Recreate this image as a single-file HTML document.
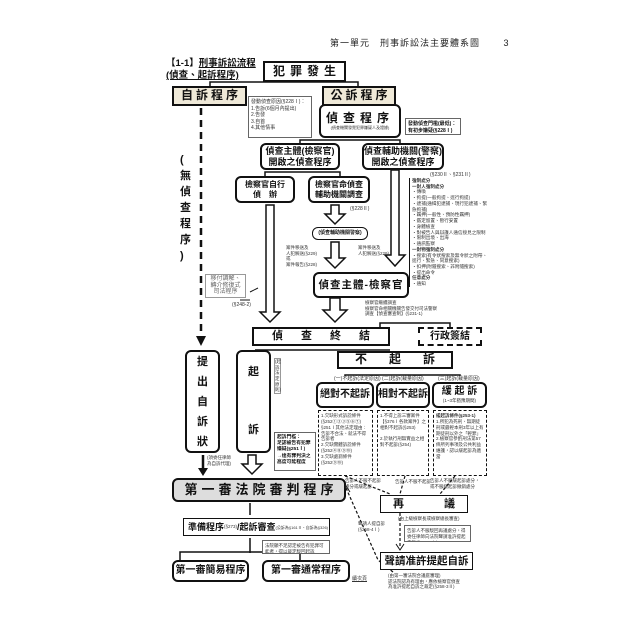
<!DOCTYPE html>
<html><head><meta charset="utf-8">
<style>
*{margin:0;padding:0;box-sizing:border-box}
body{width:640px;height:640px;background:#fff;position:relative;overflow:hidden;font-family:"Liberation Sans","Noto Sans CJK TC",sans-serif;color:#111}
.a{position:absolute}
.b{position:absolute;border:2px solid #111;background:#fff;display:flex;align-items:center;justify-content:center;text-align:center;font-weight:bold;line-height:1.15;white-space:nowrap;overflow:hidden}
.r{border-radius:6px}
.s{font-size:5px;font-weight:normal;line-height:1.25;color:#333}
.n{position:absolute;border:1px solid #666;background:#fff;font-size:5px;line-height:1.3;padding:2px;color:#333;overflow:hidden}
</style></head><body>
<div class="a" style="left:330px;top:36px;font-size:9px;letter-spacing:1px;color:#222">第一單元　刑事訴訟法主要體系圖　　 3</div>
<div class="a" style="left:166px;top:58px;font-size:9.5px;font-weight:bold;line-height:12px;white-space:nowrap">【1-1】<u>刑事訴訟流程</u><br><u>(偵查、起訴程序)</u></div>

<svg class="a" style="left:0;top:0" width="640" height="640">
<g stroke="#111" stroke-width="1.5" fill="none">
<path d="M210 86 V82 H358 V86"/>
<path d="M300 143 V140 H400 V143"/>
<path d="M265 176 V172 H340 V176"/>
<path d="M380 327 V323 H450 V327"/>
<path d="M255 350 H390"/>
<path d="M345 380 V375 H460 V380"/>
<path d="M180 560 V552 H300 V560"/>
<path d="M250 503 V515"/>
<path d="M250 538 V553"/>
</g>
<path d="M201 108 V338" stroke="#111" stroke-width="2.5" stroke-dasharray="7,5"/>
<path d="M196 336 L201 346 L206 336Z" fill="#111"/>
<path d="M203 455 V470" stroke="#111" stroke-width="2.5"/>
<path d="M198 468 L203 476 L208 468Z" fill="#111"/>
<g fill="#fff" stroke="#111" stroke-width="1.5">
<path d="M266 205 H274 V312 H280 L270 322 L260 312 H266Z"/>
<path d="M391 170 H399 V255 H405 L395 266 L385 255 H391Z"/>
<path d="M331 205 H339 V214 H345 L335 224 L325 214 H331Z"/>
<path d="M331 242 H339 V258 H345 L335 268 L325 258 H331Z"/>
<path d="M330 298 H340 V310 H347 L335 322 L323 310 H330Z"/>
<path d="M248 455 H256 V464 H262 L252 474 L242 464 H248Z"/>
</g>
<g stroke="#111" stroke-width="1.2" stroke-dasharray="3,2" fill="none">
<path d="M345 476 L390 494"/><path d="M405 476 L400 494"/><path d="M455 476 L440 494"/>
<path d="M400 513 V548"/>
<path d="M393 572 L378 560 L346 488"/>
</g>
<path d="M396 544 L400 550 L404 544" stroke="#111" fill="none"/>
<path d="M342 492 L346 486 L350 492" stroke="#111" fill="none"/>
<path d="M250 300 H240" stroke="#111"/>
<path d="M258 288 L250 292" stroke="#111"/>
</svg>

<div class="b" style="left:263px;top:61px;width:83px;height:21px;font-size:12px;letter-spacing:5px;padding-left:5px">犯罪發生</div>
<div class="b" style="left:172px;top:86px;width:75px;height:20px;font-size:12px;letter-spacing:3px;padding-left:3px;background:#efe9d8">自訴程序</div>
<div class="b" style="left:322px;top:86px;width:74px;height:20px;font-size:12px;letter-spacing:3px;padding-left:3px;background:#efe9d8">公訴程序</div>
<div class="a" style="left:180px;top:152px;width:14px;font-size:11px;font-weight:bold;line-height:16px">(<br>無<br>偵<br>查<br>程<br>序<br>)</div>
<div class="n" style="left:248px;top:96px;width:64px;height:42px">發動偵查原因(§228Ⅰ)：<br>1.告訴(6個月內提出)<br>2.告發<br>3.自首<br>4.其他情事</div>
<div class="b r" style="left:319px;top:104px;width:82px;height:34px;flex-direction:column;font-size:12px;letter-spacing:5px;border-width:2.5px">偵查程序<span class="s" style="letter-spacing:0;font-size:4px">(偵查機關發覺犯罪嫌疑人及證據)</span></div>
<div class="n" style="left:405px;top:118px;width:56px;height:17px;font-weight:bold;color:#111">發動偵查門檻(最低)：<br>有初步嫌疑(§228Ⅰ)</div>
<div class="b r" style="left:260px;top:143px;width:80px;height:27px;font-size:9px">偵查主體(檢察官)<br>開啟之偵查程序</div>
<div class="b r" style="left:362px;top:143px;width:82px;height:27px;font-size:9px">偵查輔助機關(警察)<br>開啟之偵查程序</div>
<div class="a s" style="left:430px;top:172px">(§230Ⅱ、§231Ⅱ)</div>
<div class="b r" style="left:235px;top:176px;width:60px;height:27px;font-size:8px">檢察官自行<br>偵　辦</div>
<div class="b r" style="left:308px;top:176px;width:62px;height:27px;font-size:8px">檢察官命偵查<br>輔助機關調查</div>
<div class="a s" style="left:350px;top:206px">(§228Ⅱ)</div>
<div class="a s" style="left:409px;top:178px;width:80px;font-size:4.6px;border-left:1px solid #111;padding-left:2px"><b>強制處分<br>一對人強制處分</b><br>・傳喚<br>・拘提(一般拘提、逕行拘提)<br>・逮捕(通緝犯逮捕、現行犯逮捕、緊急拘捕)<br>・羈押(一般性、預防性羈押)<br>・鑑定留置、暫行安置<br>・身體檢查<br>・對被告人與辯護人通信接見之限制<br>・限制出境、出海<br>・通訊監察<br><b>一對物強制處分</b><br>・搜索(有令狀搜索及無令狀之附帶、逕行、緊急、同意搜索)<br>・扣押(附隨搜索、非附隨搜索)<br>・提出命令<br><b>任意處分</b><br>・通知</div>
<div class="b r" style="left:312px;top:227px;width:56px;height:13px;font-size:5px;border-width:1.5px">(偵查輔助機關警察)</div>
<div class="a s" style="left:286px;top:245px;font-size:4.5px">案件移送及<br>人犯解送(§229)<br>或<br>案件報告(§228)</div>
<div class="a s" style="left:358px;top:245px;font-size:4.5px">案件移送及<br>人犯解送(§229)</div>
<div class="b r" style="left:313px;top:272px;width:96px;height:26px;font-size:10.5px;letter-spacing:1px">偵查主體-檢察官</div>
<div class="b" style="left:205px;top:274px;width:41px;height:24px;font-size:6px;font-weight:normal;border:1px solid #999;color:#666">移付調解、<br>轉介修復式<br>司法程序</div>
<div class="a s" style="left:232px;top:302px">(§248-2)</div>
<div class="a s" style="left:365px;top:300px;font-size:4.5px">檢察官繼續調查<br>檢察官命相關機關告發交付司法警察<br>調查【偵查審查制】(§231-1)</div>
<div class="b" style="left:252px;top:327px;width:138px;height:19px;font-size:11px;letter-spacing:18px;padding-left:18px">偵查終結</div>
<div class="b" style="left:418px;top:327px;width:64px;height:19px;font-size:10px;border-style:dashed">行政簽結</div>
<div class="b" style="left:337px;top:351px;width:116px;height:18px;font-size:12px;letter-spacing:22px;padding-left:22px">不起訴</div>
<div class="a s" style="left:334px;top:376px;background:#fff">(一)不起訴(法定原因)</div>
<div class="a s" style="left:382px;top:376px;background:#fff">(二)起訴(裁量原因)</div>
<div class="a s" style="left:438px;top:376px;background:#fff">(三)起訴(裁量原因)</div>
<div class="b r" style="left:316px;top:382px;width:58px;height:26px;font-size:10px">絕對不起訴</div>
<div class="b r" style="left:376px;top:382px;width:54px;height:26px;font-size:10px">相對不起訴</div>
<div class="b r" style="left:432px;top:382px;width:55px;height:26px;font-size:10px;flex-direction:column">緩 起 訴<span class="s" style="font-size:4.5px">(1~3年猶豫期間)</span></div>
<div class="n" style="left:318px;top:410px;width:55px;height:66px;border:1.5px dashed #111;font-size:4.5px">1.欠缺形式訴訟條件(§252①②③⑤⑥⑦)<br>§251Ⅰ其他法定理由：告訴不合法、就法不得告訴者<br>2.欠缺實體訴訟條件(§252④⑧⑨⑩)<br>3.欠缺處罰條件(§252⑨⑩)</div>
<div class="n" style="left:377px;top:410px;width:52px;height:66px;border:1.5px dashed #111;font-size:4.5px">1.不得上訴三審案件【§376Ⅰ各款案件】之相對不起訴(§253)<br><br>2.於執行刑無實益之相對不起訴(§254)</div>
<div class="n" style="left:433px;top:410px;width:54px;height:66px;border:1.5px dashed #111;font-size:4.5px"><b>緩起訴條件(§253-1)</b><br>1.所犯為死刑、無期徒刑或最輕本刑3年以上有期徒刑以外之「輕罪」<br>2.檢察官參酌刑法第57條所列事項及公共利益維護，認以緩起訴為適當</div>
<div class="b r" style="left:185px;top:350px;width:35px;height:103px;font-size:11px;line-height:20px;white-space:normal">提<br>出<br>自<br>訴<br>狀</div>
<div class="b r" style="left:236px;top:350px;width:35px;height:103px;font-size:11px;flex-direction:column;justify-content:space-between;padding:14px 0">起<span>訴</span></div>
<div class="a s" style="left:274px;top:358px;width:7px;font-size:4.5px;border:1px solid #999">(起訴法定原則)</div>
<div class="n" style="left:274px;top:432px;width:42px;height:39px;font-size:4.8px;color:#111;font-weight:bold">起訴門檻：<br>足認被告有犯罪嫌疑(§251Ⅰ)<br>→達有罪判決之高度可能程度</div>
<div class="a s" style="left:207px;top:455px;font-size:4.5px">(須委任律師<br>為自訴代理)</div>
<div class="b r" style="left:172px;top:478px;width:174px;height:24px;font-size:13px;letter-spacing:4px;padding-left:4px;background:#ddd">第一審法院審判程序</div>
<div class="a s" style="left:345px;top:478px;font-size:4.5px">告訴人不服不起訴<br>處分或緩起訴</div>
<div class="a s" style="left:395px;top:479px;font-size:4.5px">告訴人不服不起訴</div>
<div class="a s" style="left:430px;top:478px;font-size:4.5px">告訴人不服緩起訴處分，<br>或不服緩起訴撤銷處分</div>
<div class="b" style="left:380px;top:495px;width:88px;height:18px;font-size:11px;justify-content:space-between;padding:0 12px;border-width:1.5px">再<span>議</span></div>
<div class="a s" style="left:398px;top:516px;font-size:4.5px">(由上級檢察長或檢察總長審查)</div>
<div class="a s" style="left:358px;top:521px;font-size:4.5px">聲請人提自訴<br>(§258-4Ⅰ)</div>
<div class="n" style="left:404px;top:525px;width:67px;height:17px;font-size:4.5px">告訴人不服駁回再議處分，得委任律師向法院聲請准許提起自訴(§258-1Ⅰ)</div>
<div class="b" style="left:183px;top:518px;width:147px;height:18px;font-size:9px;justify-content:flex-start;padding-left:4px;border-width:1.5px">準備程序<span class="s" style="font-size:4.5px">(§273)</span>/起訴審查<span class="s" style="font-size:4px">(公訴為§161Ⅱ、自訴為§326)</span></div>
<div class="n" style="left:262px;top:540px;width:68px;height:14px;font-size:4.5px">法院顯不足認定被告有犯罪可能者，得以裁定駁回起訴(§161Ⅱ)</div>
<div class="b" style="left:380px;top:552px;width:93px;height:18px;font-size:10.5px;border-width:1.5px">聲請准許提起自訴</div>
<div class="a s" style="left:388px;top:573px;font-size:4.5px">(由第一審法院合議庭審理)<br>認法院認為有理由，應依檢察官偵查<br>為准許提起自訴之裁定(§258-3Ⅱ)</div>
<div class="b r" style="left:172px;top:560px;width:77px;height:22px;font-size:10px">第一審簡易程序</div>
<div class="b r" style="left:262px;top:560px;width:88px;height:22px;font-size:10px">第一審通常程序</div>
<div class="a s" style="left:352px;top:576px;text-decoration:underline">續次頁</div>
</body></html>
